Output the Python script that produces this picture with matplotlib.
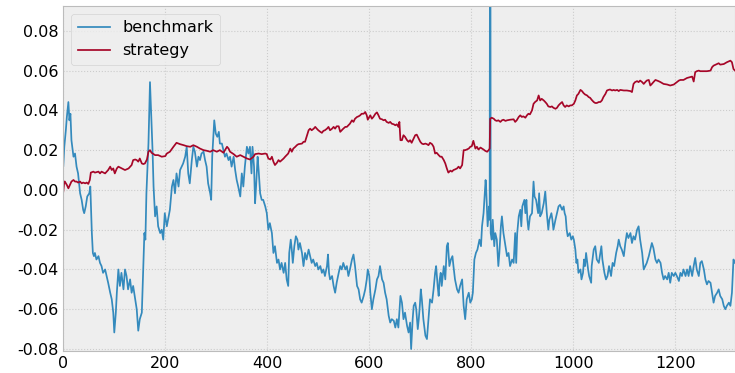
import matplotlib
matplotlib.use("Agg")
import matplotlib.pyplot as plt

plt.style.use("bmh")
plt.rcParams["axes.unicode_minus"] = False

# Cumulative returns sampled along the trading-day index
bench_day = [0, 2, 5, 7, 10, 12, 14, 16, 20, 23, 26, 29, 33, 36, 39, 41, 44, 47, 51, 53,
             56, 58, 60, 62, 65, 69, 72, 75, 78, 82, 85, 88, 92, 95, 98, 100, 103, 105, 108, 111,
             114, 118, 121, 124, 127, 131, 134, 137, 141, 144, 147, 150, 154, 157, 159, 161, 163, 167, 170, 172,
             175, 177, 180, 183, 186, 190, 193, 196, 199, 203,
             209, 213, 216, 219, 222, 226, 229, 232, 235, 239, 242, 245, 248, 252, 255, 258, 262, 265, 268, 271,
             275, 278, 281, 284, 288, 290, 292, 296, 299, 302, 305, 307, 311, 314, 317, 320, 324, 327, 330, 334,
             337, 340, 343, 347, 350, 353, 356, 360, 363, 366, 369, 371, 374, 376, 378, 381, 383, 386, 389, 392,
             396, 399, 402, 405, 409, 412, 415, 419, 422, 425, 428, 432,
             435, 438, 441, 443, 446, 448, 450, 453, 456, 459, 461, 464, 468, 471, 474, 477, 481, 484, 487, 490,
             494, 497, 500, 504, 507, 510, 513, 517, 519, 521, 523, 527, 530, 533, 536, 540, 543, 546, 549, 553,
             556, 559, 562, 566, 569, 572, 576, 579, 582, 585, 589, 592, 595, 597, 600, 602, 605, 608, 612, 615,
             618, 621, 625, 628, 631, 634, 638, 641, 644, 648, 651, 654, 657,
             661, 664, 667, 670, 674, 677, 680, 682, 685, 687, 690, 692, 695, 697, 699, 701, 703, 706, 710, 713,
             716, 719, 723, 726, 729, 731, 734, 736, 738, 740, 742, 746, 749, 752, 754, 757, 760, 763, 765, 768,
             772, 775, 778, 782, 785, 788, 791, 795, 798, 801, 803, 806, 809, 812, 816, 819, 821, 824, 826, 828,
             829, 832, 835, 836, 837, 838, 840, 842, 845, 847, 850, 853, 855, 858, 860, 863, 867, 870, 873, 876,
             880, 883,
             886, 888, 890, 893, 896, 898, 900, 904, 906, 908, 910, 912, 915, 919, 922, 924, 927, 929, 931, 933,
             935, 938, 942, 945, 948, 951, 953, 957, 959, 961, 965, 968, 971, 974, 978, 981, 983, 985, 987, 989,
             993, 996, 999, 1001, 1004, 1006, 1008, 1010, 1014, 1016, 1019, 1021, 1023, 1025, 1029, 1031, 1035, 1036, 1040, 1043,
             1046, 1050, 1053, 1055, 1057, 1061, 1064, 1067, 1070, 1074, 1077, 1080, 1084, 1087, 1089,
             1092, 1095, 1099, 1102, 1105, 1108, 1112, 1115, 1118, 1121, 1125, 1128, 1131, 1135, 1138, 1141, 1144, 1148, 1151, 1154,
             1157, 1161, 1164, 1167, 1171, 1174, 1177, 1180, 1184, 1187, 1190, 1193, 1197, 1200, 1203, 1207, 1210, 1213, 1216, 1220,
             1223, 1226, 1229, 1233, 1236, 1239, 1242, 1246, 1249, 1252, 1256, 1259, 1262, 1265, 1269, 1272, 1275, 1278, 1282, 1285,
             1288, 1292, 1295, 1298, 1301, 1305, 1308, 1311, 1314, 1317]
benchmark = [0.012, 0.0217, 0.030, 0.0367, 0.0442, 0.035, 0.0383, 0.025, 0.0167, 0.0183, 0.0117, 0.0083, -0.0017, -0.005, -0.01, -0.0117, -0.0083, -0.0033, -0.0017, 0.0017,
             -0.0217, -0.0317, -0.0333, -0.0317, -0.035, -0.0333, -0.0367, -0.0383, -0.0417, -0.04, -0.0433, -0.0467, -0.0517, -0.055, -0.0617, -0.0717, -0.0617, -0.0517, -0.04, -0.0483,
             -0.0417, -0.05, -0.04, -0.0433, -0.05, -0.045, -0.0517, -0.0483, -0.055, -0.06, -0.0708, -0.065, -0.0617, -0.0383, -0.0217, -0.025, -0.0017, 0.0233, 0.0542, 0.04,
             0.02, 0.0017, -0.0133, -0.0083, -0.0183, -0.0217, -0.02, -0.025, -0.0117, -0.0183,
             -0.01, 0.0017, 0.005, -0.0017, 0.0083, 0.0017, 0.01, 0.0117, 0.0133, 0.0167, 0.0217, 0.0083, 0.0033, 0.015, 0.0217, 0.0192, 0.0117, 0.0167, 0.015, 0.0183,
             0.0192, 0.015, 0.0117, 0.0033, -0.0017, -0.005, 0.0167, 0.035, 0.0283, 0.0267, 0.0292, 0.0233, 0.0233, 0.02, 0.0167, 0.0183, 0.015, 0.0167, 0.0117, 0.0167,
             0.01, 0.005, 0.0017, -0.0033, 0.0083, 0.0017, 0.0117, 0.0217, 0.0183, 0.0217, 0.0083, 0.0217, 0.0117, -0.0067, 0.0017, 0.0167, 0.01, -0.0017, -0.005, -0.005,
             -0.0083, -0.0117, -0.02, -0.0167, -0.0217, -0.0317, -0.0283, -0.0367, -0.035, -0.04, -0.0367, -0.0417,
             -0.0367, -0.045, -0.0483, -0.0317, -0.025, -0.03, -0.0367, -0.0283, -0.0233, -0.025, -0.03, -0.0267, -0.0317, -0.0383, -0.0317, -0.035, -0.03, -0.0333, -0.0367, -0.035,
             -0.0383, -0.0367, -0.04, -0.0383, -0.0417, -0.04, -0.0433, -0.0383, -0.0325, -0.0417, -0.045, -0.0433, -0.0483, -0.0517, -0.0467, -0.0417, -0.0383, -0.04, -0.0367, -0.04,
             -0.0383, -0.0433, -0.04, -0.035, -0.0325, -0.0383, -0.0483, -0.05, -0.055, -0.0567, -0.0533, -0.05, -0.045, -0.04, -0.0433, -0.0517, -0.06, -0.055, -0.05, -0.045,
             -0.0433, -0.0383, -0.045, -0.0467, -0.0517, -0.055, -0.0633, -0.0667, -0.065, -0.0658, -0.0692, -0.065, -0.0692,
             -0.0533, -0.0567, -0.065, -0.0617, -0.0683, -0.0717, -0.0667, -0.08, -0.065, -0.0583, -0.0567, -0.06, -0.07, -0.065, -0.0583, -0.05, -0.055, -0.065, -0.0733, -0.075,
             -0.065, -0.055, -0.0567, -0.05, -0.0417, -0.0383, -0.0483, -0.0533, -0.045, -0.0417, -0.0483, -0.0383, -0.045, -0.0283, -0.0267, -0.0383, -0.035, -0.0333, -0.0383, -0.045,
             -0.05, -0.0517, -0.0483, -0.045, -0.0583, -0.065, -0.055, -0.0517, -0.0567, -0.055, -0.0517, -0.035, -0.0317, -0.03, -0.025, -0.0283, -0.0183, -0.0117, -0.0033, 0.005,
             0.0017, -0.0183, -0.0083, -0.015, 0.25, -0.0217, -0.025, -0.015, -0.0283, -0.0217, -0.025, -0.0383, -0.0317, -0.0183, -0.0133, -0.0217, -0.0283, -0.0333, -0.0317, -0.0383,
             -0.035, -0.0367,
             -0.0217, -0.0367, -0.0217, -0.0133, -0.01, -0.0183, -0.0083, -0.005, -0.0117, -0.005, -0.015, -0.02, -0.0133, -0.0117, 0.0042, -0.0033, -0.005, -0.0083, -0.0117, -0.0017,
             -0.0133, -0.0117, -0.0067, -0.0008, -0.0117, -0.02, -0.015, -0.0117, -0.015, -0.02, -0.015, -0.0117, -0.0083, -0.0075, -0.01, -0.0083, -0.0117, -0.0133, -0.02, -0.0233,
             -0.0217, -0.025, -0.0233, -0.025, -0.03, -0.0367, -0.035, -0.0417, -0.04, -0.045, -0.0417, -0.035, -0.0383, -0.0317, -0.04, -0.0433, -0.0467, -0.0383, -0.03, -0.0283,
             -0.035, -0.0367, -0.0317, -0.0283, -0.035, -0.0417, -0.045, -0.0433, -0.0383, -0.0433, -0.0367, -0.0383, -0.0317, -0.0283, -0.025,
             -0.0283, -0.03, -0.0333, -0.0267, -0.0217, -0.0242, -0.0217, -0.0267, -0.0233, -0.025, -0.02, -0.0183, -0.025, -0.0317, -0.04, -0.0383, -0.0367, -0.0333, -0.03, -0.0267,
             -0.0292, -0.035, -0.0367, -0.035, -0.0367, -0.0417, -0.045, -0.0433, -0.045, -0.0417, -0.0467, -0.0417, -0.0433, -0.0417, -0.0433, -0.0458, -0.0417, -0.0433, -0.04, -0.0433,
             -0.04, -0.0433, -0.0383, -0.0433, -0.0383, -0.0342, -0.04, -0.0433, -0.0367, -0.0358, -0.04, -0.045, -0.0475, -0.0458, -0.0467, -0.0517, -0.0567, -0.0533, -0.0517, -0.05,
             -0.0533, -0.055, -0.0583, -0.06, -0.0583, -0.0567, -0.0583, -0.0517, -0.035, -0.0367]

strat_day = [0, 2, 3, 7, 10, 13, 16, 20, 23, 26, 29, 33, 36, 39, 43, 46, 49, 52, 54, 59,
             62, 69, 72, 75, 82, 88, 92, 95, 98, 101, 105, 108, 115, 121, 128, 134, 137, 141, 144, 147,
             150, 154, 157, 160, 164, 167, 170, 173, 177, 180, 186, 193, 200, 203,
             209, 216, 222, 229, 236, 242, 249, 255, 262, 268, 275, 281, 288, 294, 301, 307, 314, 321, 324, 327,
             334, 340, 347, 353, 360, 366, 373, 376, 383, 389, 396, 399, 402, 406, 409, 412, 415, 419, 422, 425,
             432,
             435, 438, 441, 445, 448, 451, 455, 458, 461, 468, 471, 474, 477, 481, 484, 487, 491, 494, 497, 500,
             504, 507, 510, 513, 517, 520, 523, 527, 530, 533, 536, 540, 543, 546, 549, 553, 556, 559, 562, 566,
             569, 572, 576, 579, 582, 585, 589, 592, 595, 597, 600, 602, 605, 608, 612, 615, 618, 621, 625, 628,
             631, 634, 638, 641, 644, 648, 651, 654, 657, 659, 661,
             664, 667, 670, 674, 677, 680, 683, 687, 690, 693, 697, 700, 703, 706, 710, 713, 716, 719, 723, 726,
             729, 732, 736, 739, 742, 746, 749, 752, 755, 759, 762, 765, 768, 772, 775, 778, 782, 785, 788, 791,
             795, 798, 801, 804, 808, 811, 814, 818, 821, 824, 827, 831, 834, 836, 837, 840, 844, 847, 850, 853,
             857, 860, 863, 867, 870, 876, 883,
             886, 889, 893, 896, 899, 902, 906, 909, 912, 915, 919, 922, 925, 929, 932, 935, 938, 942, 945, 948,
             951, 955, 958, 961, 965, 968, 971, 974, 978, 981, 984, 987, 991, 994, 997, 1001, 1004, 1007, 1010, 1014,
             1017, 1020, 1023, 1027, 1030, 1033, 1036, 1040, 1043, 1046, 1050, 1053, 1056, 1059, 1063, 1066, 1069, 1072, 1076, 1079,
             1082, 1086, 1089,
             1092, 1099, 1105, 1112, 1115, 1118, 1121, 1125, 1128, 1131, 1135, 1138, 1141, 1144, 1148, 1151, 1154, 1157, 1161, 1164,
             1167, 1171, 1177, 1184, 1190, 1197, 1203, 1207, 1210, 1216, 1223, 1229, 1233, 1236, 1239, 1242, 1246, 1249, 1256, 1262,
             1269, 1272, 1275, 1282, 1285, 1288, 1295, 1301, 1308, 1311, 1314, 1317]
strategy = [-0.0008, 0.0042, 0.0042, 0.0025, 0.0008, 0.0025, 0.0042, 0.005, 0.0042, 0.0042, 0.0037, 0.0042, 0.0033, 0.0037, 0.0033, 0.0037, 0.003, 0.005, 0.0087, 0.0092,
            0.0087, 0.0092, 0.0083, 0.0092, 0.0083, 0.01, 0.0117, 0.01, 0.0108, 0.0083, 0.0108, 0.0117, 0.0108, 0.01, 0.0108, 0.0125, 0.015, 0.0153, 0.015, 0.0142,
            0.0158, 0.0133, 0.013, 0.0133, 0.0153, 0.0192, 0.02, 0.0187, 0.018, 0.0175, 0.0175, 0.0167, 0.017, 0.0183,
            0.0192, 0.0217, 0.0237, 0.023, 0.0225, 0.022, 0.0217, 0.0225, 0.0217, 0.0208, 0.02, 0.0197, 0.0192, 0.02, 0.0192, 0.02, 0.0187, 0.0217, 0.0208, 0.0192,
            0.018, 0.0167, 0.0175, 0.0167, 0.0158, 0.0153, 0.0167, 0.018, 0.0183, 0.018, 0.0183, 0.018, 0.0158, 0.0153, 0.0167, 0.0142, 0.0125, 0.0137, 0.015, 0.0142,
            0.0158,
            0.0167, 0.0175, 0.0183, 0.0208, 0.0192, 0.0208, 0.0217, 0.0225, 0.023, 0.0233, 0.0242, 0.0242, 0.0267, 0.03, 0.0308, 0.03, 0.0308, 0.0317, 0.0308, 0.03,
            0.0292, 0.0287, 0.0297, 0.03, 0.0308, 0.0317, 0.03, 0.0308, 0.0317, 0.0308, 0.032, 0.032, 0.0292, 0.03, 0.0308, 0.0317, 0.0317, 0.0325, 0.0333, 0.035,
            0.0342, 0.0358, 0.0367, 0.037, 0.0375, 0.0383, 0.0383, 0.0392, 0.0375, 0.0353, 0.0367, 0.0375, 0.0358, 0.0367, 0.0383, 0.039, 0.0375, 0.0358, 0.0355, 0.035,
            0.0353, 0.0342, 0.0337, 0.0342, 0.0333, 0.033, 0.0325, 0.033, 0.0317, 0.0342, 0.025,
            0.025, 0.0275, 0.0267, 0.025, 0.0242, 0.025, 0.0237, 0.0258, 0.0275, 0.0278, 0.0258, 0.0242, 0.0233, 0.023, 0.0233, 0.023, 0.0225, 0.0237, 0.023, 0.0217,
            0.0183, 0.0187, 0.0175, 0.0167, 0.0167, 0.015, 0.0133, 0.0108, 0.0087, 0.0097, 0.0092, 0.01, 0.0103, 0.0108, 0.0117, 0.0108, 0.0125, 0.02, 0.02, 0.0203,
            0.0208, 0.0217, 0.022, 0.0247, 0.0208, 0.0217, 0.0203, 0.0213, 0.0208, 0.0203, 0.0197, 0.0192, 0.02, 0.0208, 0.0358, 0.0363, 0.0358, 0.035, 0.0347, 0.035,
            0.0342, 0.035, 0.0353, 0.0347, 0.035, 0.0353, 0.0355,
            0.0342, 0.035, 0.0367, 0.0375, 0.0367, 0.037, 0.0363, 0.0375, 0.0383, 0.038, 0.04, 0.0433, 0.0442, 0.045, 0.0475, 0.045, 0.0458, 0.045, 0.0442, 0.0433,
            0.042, 0.0417, 0.042, 0.0413, 0.0408, 0.0413, 0.0425, 0.0433, 0.0442, 0.0425, 0.0417, 0.0425, 0.042, 0.0425, 0.0425, 0.0433, 0.045, 0.0475, 0.0483, 0.0503,
            0.0497, 0.0487, 0.048, 0.0475, 0.0467, 0.0463, 0.0453, 0.0442, 0.0437, 0.0437, 0.0442, 0.0442, 0.045, 0.0467, 0.0483, 0.05, 0.0503, 0.0505, 0.05, 0.0503,
            0.05, 0.0503, 0.0497,
            0.0503, 0.05, 0.05, 0.0497, 0.0492, 0.0533, 0.0542, 0.0547, 0.0542, 0.055, 0.0542, 0.0533, 0.0542, 0.055, 0.0553, 0.0525, 0.0533, 0.0542, 0.0553, 0.055,
            0.0547, 0.0542, 0.0533, 0.053, 0.0525, 0.053, 0.0542, 0.055, 0.0553, 0.0553, 0.0563, 0.0567, 0.057, 0.0545, 0.0592, 0.0597, 0.06, 0.0597, 0.0597, 0.0597,
            0.06, 0.0617, 0.0625, 0.0633, 0.0637, 0.063, 0.0633, 0.0642, 0.065, 0.0642, 0.0608, 0.06]

x_ticks = [0, 200, 400, 600, 800, 1000, 1200]
y_ticks = [-0.08, -0.06, -0.04, -0.02, 0.00, 0.02, 0.04, 0.06, 0.08]

fig = plt.figure(figsize=(7.35, 3.73), dpi=100)
ax = fig.add_axes([0.0861, 0.059, 0.9139, 0.925])

ax.plot(bench_day, benchmark, color="#348ABD", lw=1.25, label="benchmark")
ax.plot(strat_day, strategy, color="#A60628", lw=1.25, label="strategy")

ax.set_xlim(0, 1317)
ax.set_ylim(-0.081, 0.0925)
ax.set_xticks(x_ticks)
ax.set_yticks(y_ticks)
ax.set_yticklabels([f"{v:.2f}" for v in y_ticks])
ax.tick_params(labelsize=11.5, length=0, pad=3.5)
ax.grid(True, color="#cccccc", linestyle=":", linewidth=0.8)
ax.legend(loc="upper left", fontsize=11.5)

fig.savefig("out.png", dpi=100)
